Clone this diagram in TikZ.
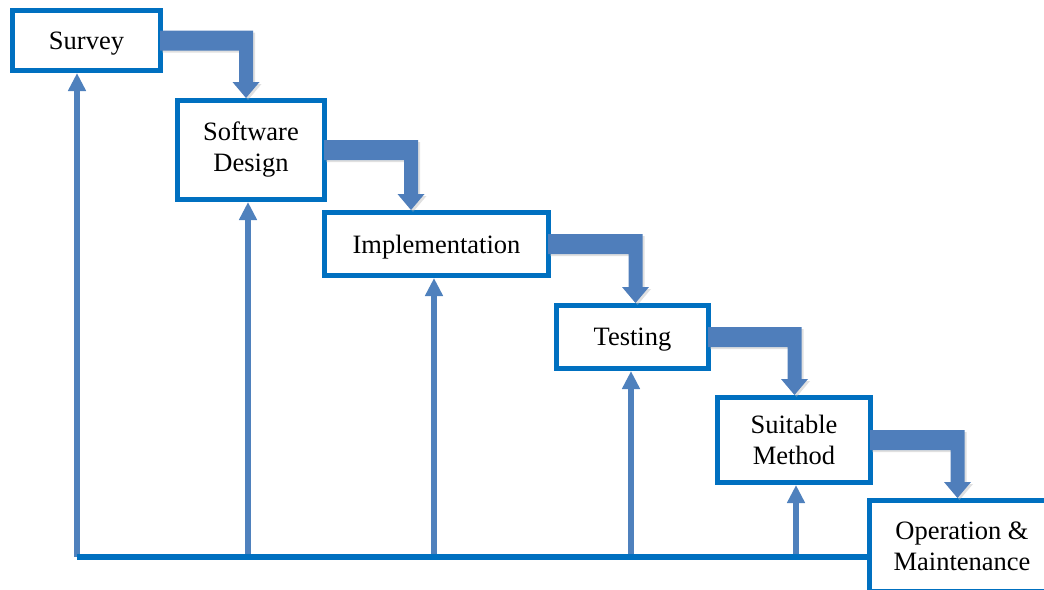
\documentclass[tikz,border=0pt]{standalone}
\usepackage{fontspec}
\setmainfont{Liberation Serif}
\usetikzlibrary{arrows.meta,calc}
\definecolor{boxblue}{HTML}{0070C0}
\definecolor{flowblue}{HTML}{4F7EBB}
\definecolor{upblue}{HTML}{4F81BD}
\tikzset{
  stagebox/.style={draw=boxblue, line width=5pt, fill=white, inner sep=0pt, align=center,
    font=\fontsize{26.5}{31}\selectfont},
  oneline/.style={text depth=0pt},
  uparrow/.style={draw=upblue, line width=5.5pt, -{Triangle[width=17pt,length=18pt]}},
  busline/.style={draw=boxblue, line width=5.5pt},
  stepfill/.style={fill=flowblue},
  stepshadow/.style={fill=black!30, opacity=0.4}
}
\newcommand\stepflow[3]{%
  \fill[stepshadow] let \p1=(#1.east), \p2=(#2.north) in
    (\x1-1pt,\y1+8pt) -- (#3pt+9pt,\y1+8pt) -- (#3pt+9pt,\y2+14pt) -- (#3pt+15.5pt,\y2+14pt) --
    (#3pt+2pt,\y2-2pt) -- (#3pt-11.5pt,\y2+14pt) -- (#3pt-5pt,\y2+14pt) -- (#3pt-5pt,\y1-12pt) --
    (\x1-1pt,\y1-12pt) -- cycle;
  \fill[stepfill] let \p1=(#1.east), \p2=(#2.north) in
    (\x1-3pt,\y1+10pt) -- (#3pt+7pt,\y1+10pt) -- (#3pt+7pt,\y2+16pt) -- (#3pt+13.5pt,\y2+16pt) --
    (#3pt,\y2) -- (#3pt-13.5pt,\y2+16pt) -- (#3pt-7pt,\y2+16pt) -- (#3pt-7pt,\y1-10pt) --
    (\x1-3pt,\y1-10pt) -- cycle;
}
\begin{document}
\begin{tikzpicture}[x=1pt,y=-1pt]
\useasboundingbox (0,0) rectangle (1044,589);
\clip (0,0) rectangle (1044,589);
% coordinates on the bus line
\coordinate (v1) at (77,557);
\coordinate (v2) at (248,557);
\coordinate (v3) at (434,557);
\coordinate (v4) at (631,557);
\coordinate (v5) at (796,557);
% stages
\node[stagebox, oneline, minimum width=148pt, minimum height=60pt] (survey) at (86.5,40.5) {Survey};
\node[stagebox, minimum width=147pt, minimum height=99pt] (design) at (251,150) {Software\\Design};
\node[stagebox, oneline, minimum width=224pt, minimum height=63pt] (impl) at (436.5,244) {Implementation};
\node[stagebox, oneline, minimum width=152pt, minimum height=63pt] (test) at (632.5,337) {Testing};
\node[stagebox, minimum width=153pt, minimum height=85pt] (suit) at (794,440) {Suitable\\Method};
\node[stagebox, minimum width=185pt, minimum height=91pt] (op) at (962,546) {Operation \&\\Maintenance};
% feedback arrows
\draw[uparrow] (v1) -- (v1 |- survey.south);
\draw[uparrow] (v2) -- (v2 |- design.south);
\draw[uparrow] (v3) -- (v3 |- impl.south);
\draw[uparrow] (v4) -- (v4 |- test.south);
\draw[uparrow] (v5) -- (v5 |- suit.south);
\draw[busline] (v1) -- (v1 -| op.west);
% step arrows
\stepflow{survey}{design}{246}
\stepflow{design}{impl}{411}
\stepflow{impl}{test}{635.5}
\stepflow{test}{suit}{794.5}
\stepflow{suit}{op}{957.5}
\end{tikzpicture}
\end{document}
